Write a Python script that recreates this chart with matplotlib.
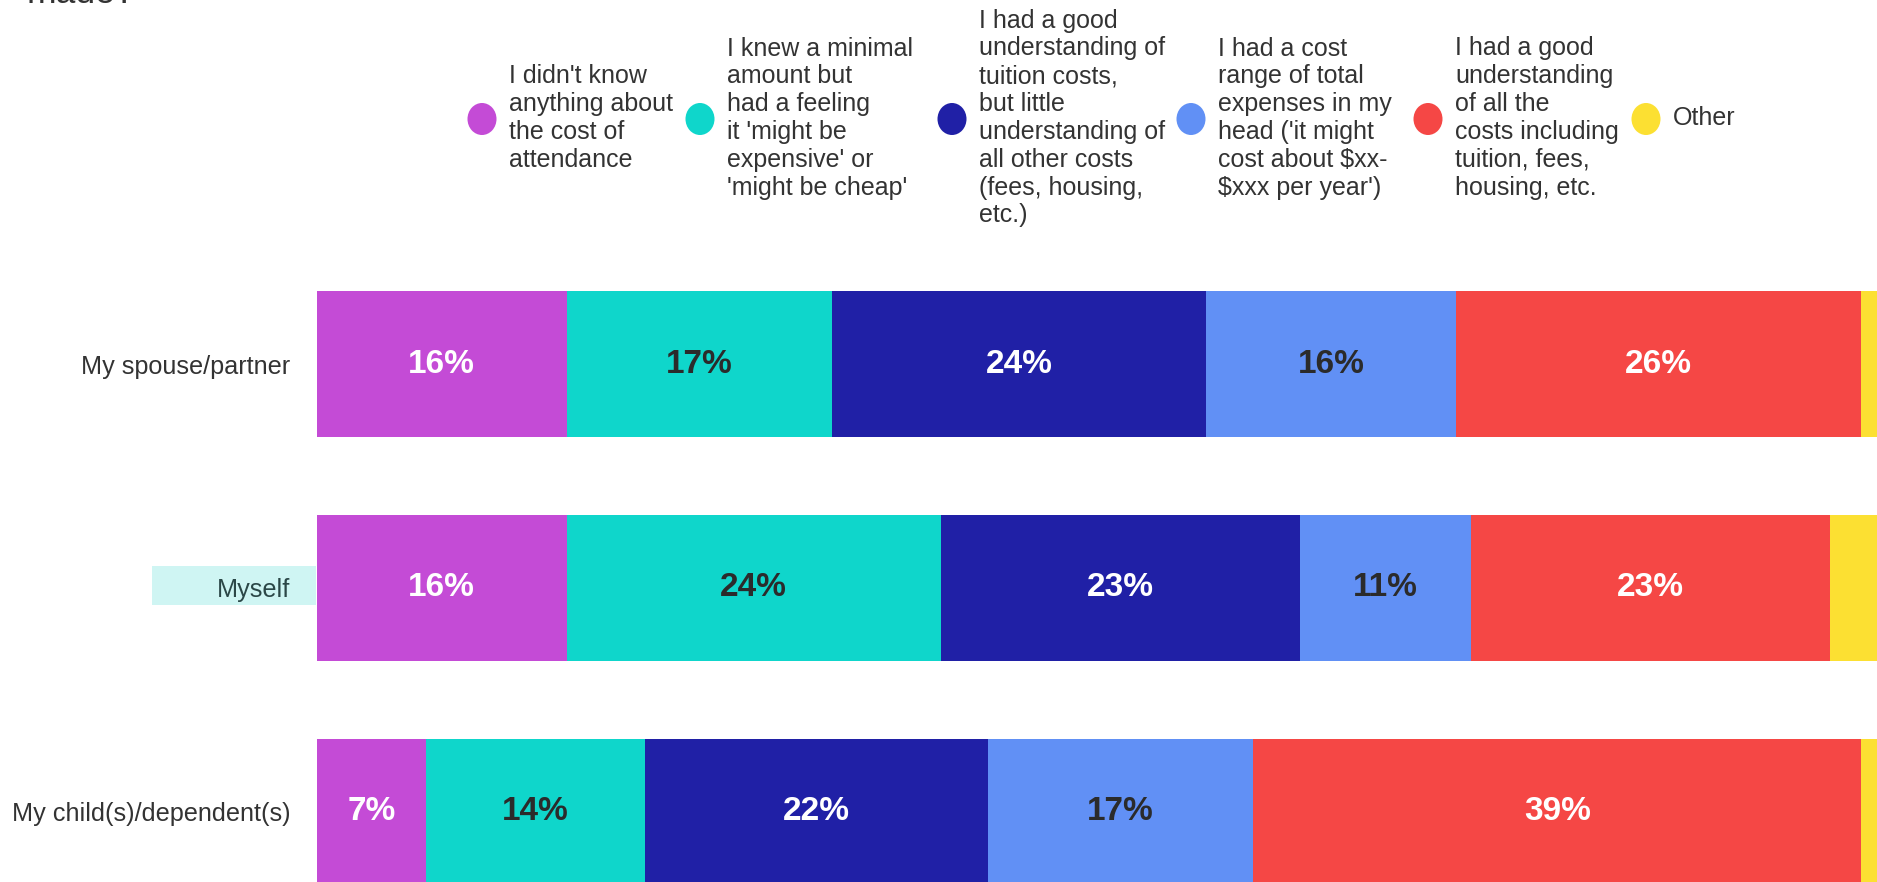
import matplotlib.pyplot as plt
from matplotlib.patches import Ellipse, Rectangle

plt.rcParams['font.family'] = ['Liberation Sans', 'DejaVu Sans']

# who the answer is about (top to bottom)
groups = ['My spouse/partner', 'Myself', 'My child(s)/dependent(s)']

# share of respondents per answer, in percent
didnt_know = [16, 16, 7]
minimal = [17, 24, 14]
tuition_only = [24, 23, 22]
cost_range = [16, 11, 17]
all_costs = [26, 23, 39]
other = [1, 3, 1]

answers = [
    "I didn't know\nanything about\nthe cost of\nattendance",
    "I knew a minimal\namount but\nhad a feeling\nit 'might be\nexpensive' or\n'might be cheap'",
    "I had a good\nunderstanding of\ntuition costs,\nbut little\nunderstanding of\nall other costs\n(fees, housing,\netc.)",
    "I had a cost\nrange of total\nexpenses in my\nhead ('it might\ncost about $xx-\n$xxx per year')",
    "I had a good\nunderstanding\nof all the\ncosts including\ntuition, fees,\nhousing, etc.",
    "Other",
]
series = [didnt_know, minimal, tuition_only, cost_range, all_costs, other]
colors = ['#c44bd6', '#0fd6cb', '#2020a6', '#6190f5', '#f54745', '#fce032']
label_colors = ['white', '#2b2b2b', 'white', '#2b2b2b', 'white', None]

W, H = 1877, 882
fig = plt.figure(figsize=(W / 100, H / 100), dpi=100)

# bar area, in figure pixels
ax = fig.add_axes([317 / W, -42 / H, 1560 / W, 672 / H])
ax.patch.set_visible(False)
ypos = list(range(len(groups)))
left = [0] * len(groups)
for vals, col, lc in zip(series, colors, label_colors):
    bars = ax.barh(ypos, vals, left=left, height=0.652, color=col, linewidth=0)
    if lc is not None:
        ax.bar_label(bars, labels=[f'{v}%' for v in vals], label_type='center',
                     color=lc, fontsize=24, fontweight='bold')
    left = [a + b for a, b in zip(left, vals)]

ax.set_xlim(0, 100)
ax.set_ylim(2.5, -0.5)
ax.set_xticks([])
ax.set_yticks(ypos, groups, fontsize=18.2, color='#333333')
ax.tick_params(axis='y', length=0, pad=19)
for s in ax.spines.values():
    s.set_visible(False)
ax.get_yticklabels()[1].set_color('#2b4747')

# overlay in pixel units for legend, title tail and row highlight
ov = fig.add_axes([0, 0, 1, 1])
ov.set_zorder(-1)
ov.set_xlim(0, W)
ov.set_ylim(H, 0)
ov.axis('off')

ov.add_patch(Rectangle((152, 566), 164, 39, facecolor='#cff5f3', edgecolor='none'))
ov.text(27, 3, 'made?', fontsize=25.5, color='#333333', va='baseline')

key_x = [482, 700, 952, 1191, 1428, 1646]
for kx, col, lab in zip(key_x, colors, answers):
    ov.add_patch(Ellipse((kx, 119), 29, 32, facecolor=col, edgecolor='none'))
    ov.text(kx + 27, 118, lab, fontsize=18, color='#333333', ha='left',
            va='center', linespacing=1.2, parse_math=False)

fig.savefig('out.png', dpi=100)
